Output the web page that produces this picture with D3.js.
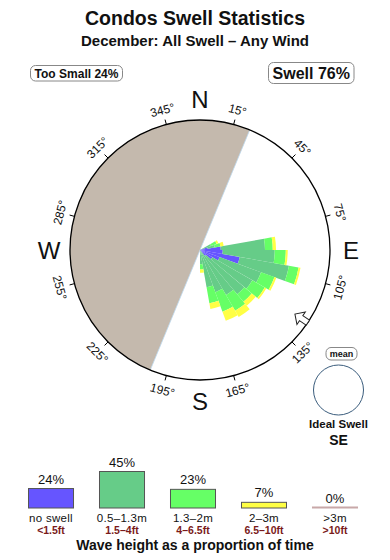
<!DOCTYPE html>
<html>
<head>
<meta charset="utf-8">
<script src="https://cdn.jsdelivr.net/npm/d3@7"></script>
<style>
body { margin: 0; background: #fff; }
text { font-family: "Liberation Sans", Arial, Helvetica, sans-serif; fill: #111; }
</style>
</head>
<body>
<div id="chart"></div>
<script>
// direction bins (start bearing in degrees, each 10 degrees wide)
var binStarts = [60, 70, 80, 90, 100, 110, 120, 130, 140, 150, 160, 170];
var binWidth = 10;

// share of time per direction bin, one array per wave height class (percent)
var noSwell    = [0, 0.6, 1.6, 1.75, 3.1, 1.6, 1.1, 0.6, 0, 0, 0, 0];
var smallSwell = [0.9, 0.55, 3.4, 4.0, 3.85, 3.4, 3.55, 3.85, 4.0, 3.45, 2.9, 1.1];
var midSwell   = [0.45, 0.45, 0.6, 0.85, 0.75, 1.1, 1.1, 0.75, 1.4, 1.6, 1.25, 0.4];
var bigSwell   = [0.15, 0.25, 0.25, 0.15, 0.15, 0.15, 0.15, 0.4, 0.55, 0.75, 0.45, 0.25];

// legend
var heightClasses = ["no swell", "0.5\u20131.3m", "1.3\u20132m", "2\u20133m", ">3m"];
var heightFeet = ["<1.5ft", "1.5\u20134ft", "4\u20136.5ft", "6.5\u201310ft", ">10ft"];
var heightShare = [24, 45, 23, 7, 0];
var classColors = ["#6655ff", "#66cc88", "#66ff66", "#ffff44", "#c8a8a8"];

// compass
var degreeTicks = [15, 45, 75, 105, 135, 165, 195, 225, 255, 285, 315, 345];
var cardinals = ["N", "E", "S", "W"];
var cardinalAngles = [0, 90, 180, 270];
var shadowFrom = 202.5, shadowTo = 382.5;
var idealArrow = 124;
var tooSmall = 24, swellShare = 76;

var width = 390, height = 560;
var cx = 200, cy = 250, radius = 130;

var svg = d3.select("#chart")
  .append("svg")
    .attr("width", width)
    .attr("height", height);

// titles
svg.append("text")
  .attr("x", 195).attr("y", 25)
  .attr("text-anchor", "middle")
  .style("font-size", "19.5px").style("font-weight", "bold")
  .text("Condos Swell Statistics");
svg.append("text")
  .attr("x", 195).attr("y", 46)
  .attr("text-anchor", "middle")
  .style("font-size", "15px").style("font-weight", "bold")
  .text("December: All Swell \u2013 Any Wind");

// summary boxes
function labelBox(x, y, w, h, size, txt) {
  svg.append("rect")
    .attr("x", x).attr("y", y).attr("width", w).attr("height", h)
    .attr("rx", 5)
    .style("fill", "#fff").style("stroke", "#888").style("stroke-width", 1);
  svg.append("text")
    .attr("x", x + w / 2).attr("y", y + h / 2)
    .attr("dy", "0.36em")
    .attr("text-anchor", "middle")
    .style("font-size", size).style("font-weight", "bold")
    .text(txt);
}
labelBox(30.5, 65.5, 92, 15.5, "12px", "Too Small " + tooSmall + "%");
labelBox(268.5, 62.5, 85.5, 21, "16px", "Swell " + swellShare + "%");

var rad = function(deg) { return deg * Math.PI / 180; };
var rose = svg.append("g").attr("transform", "translate(" + cx + "," + cy + ")");

// shadowed half of the compass
rose.append("path")
  .attr("d", d3.arc()({innerRadius: 0, outerRadius: radius,
    startAngle: rad(shadowFrom), endAngle: rad(shadowTo)}))
  .style("fill", "#c4b9ad");
rose.append("line")
  .attr("x1", radius * Math.sin(rad(shadowFrom))).attr("y1", -radius * Math.cos(rad(shadowFrom)))
  .attr("x2", radius * Math.sin(rad(shadowTo))).attr("y2", -radius * Math.cos(rad(shadowTo)))
  .style("stroke", "#bcd8ee").style("stroke-width", 0.8);

// stacked rose
var keys = ["noSwell", "smallSwell", "midSwell", "bigSwell"];
var table = binStarts.map(function(b, i) {
  return {start: b, noSwell: noSwell[i], smallSwell: smallSwell[i], midSwell: midSwell[i], bigSwell: bigSwell[i]};
});
var series = d3.stack().keys(keys)(table);
var r = d3.scaleLinear().domain([0, 10]).range([0, radius]);
var arc = d3.arc()
  .innerRadius(function(d) { return r(d[0]); })
  .outerRadius(function(d) { return r(d[1]); })
  .startAngle(function(d) { return rad(d.data.start); })
  .endAngle(function(d) { return rad(d.data.start + binWidth); });

rose.selectAll("g.layer")
  .data(series)
  .enter()
  .append("g")
    .attr("class", "layer")
    .style("fill", function(d, i) { return classColors[i]; })
  .selectAll("path")
  .data(function(d) { return d; })
  .enter()
  .append("path")
    .attr("d", arc);

// compass ring
rose.append("circle")
  .attr("r", radius)
  .style("fill", "none").style("stroke", "#000").style("stroke-width", 1.3);

rose.selectAll("line.tick")
  .data(degreeTicks)
  .enter()
  .append("line")
    .attr("class", "tick")
    .attr("x1", function(d) { return radius * Math.sin(rad(d)); })
    .attr("y1", function(d) { return -radius * Math.cos(rad(d)); })
    .attr("x2", function(d) { return (radius + 5) * Math.sin(rad(d)); })
    .attr("y2", function(d) { return -(radius + 5) * Math.cos(rad(d)); })
    .style("stroke", "#000").style("stroke-width", 1);

rose.selectAll("text.deg")
  .data(degreeTicks)
  .enter()
  .append("text")
    .attr("class", "deg")
    .attr("transform", function(d) {
      var rot = ((d + 90) % 180) - 90;
      return "translate(" + (145 * Math.sin(rad(d))) + "," + (-145 * Math.cos(rad(d))) + ")rotate(" + rot + ")";
    })
    .attr("text-anchor", "middle")
    .attr("dy", "0.36em")
    .style("font-size", "12px")
    .text(function(d) { return d + "\u00b0"; });

rose.selectAll("text.card")
  .data(cardinals)
  .enter()
  .append("text")
    .attr("class", "card")
    .attr("x", function(d, i) { return 151 * Math.sin(rad(cardinalAngles[i])); })
    .attr("y", function(d, i) { return -151 * Math.cos(rad(cardinalAngles[i])); })
    .attr("dy", "0.36em")
    .attr("text-anchor", "middle")
    .style("font-size", "24px")
    .text(function(d) { return d; });

// ideal swell arrow on the ring, pointing in
var arrowPts = [[0, -3], [8, -3], [8, -7.5], [15.5, 0], [8, 7.5], [8, 3], [0, 3]];
rose.append("polygon")
  .attr("points", arrowPts.map(function(p) { return p.join(","); }).join(" "))
  .attr("transform", "rotate(" + (idealArrow - 90) + ")translate(" + radius + ",0)rotate(180)")
  .style("fill", "#fff").style("stroke", "#222").style("stroke-width", 1);

// mean / ideal swell panel
labelBox(326, 347.5, 31, 12.5, "9px", "mean");
svg.append("circle")
  .attr("cx", 338.5).attr("cy", 390).attr("r", 25)
  .style("fill", "#fff").style("stroke", "#3b5d7d").style("stroke-width", 1);
svg.append("text")
  .attr("x", 338.5).attr("y", 428)
  .attr("text-anchor", "middle")
  .style("font-size", "11.5px").style("font-weight", "bold")
  .text("Ideal Swell");
svg.append("text")
  .attr("x", 338.5).attr("y", 445)
  .attr("text-anchor", "middle")
  .style("font-size", "14px").style("font-weight", "bold")
  .text("SE");

// wave height bars
var x = d3.scaleBand()
  .domain(heightClasses)
  .range([28.5, 357.5])
  .paddingInner(0.366)
  .paddingOuter(0);
var y = d3.scaleLinear()
  .domain([0, 45])
  .range([508, 471.5]);

svg.selectAll("rect.bar")
  .data(heightShare)
  .enter()
  .append("rect")
    .attr("class", "bar")
    .attr("x", function(d, i) { return x(heightClasses[i]); })
    .attr("y", function(d) { return Math.min(y(d), y(0) - 1); })
    .attr("width", x.bandwidth())
    .attr("height", function(d) { return Math.max(y(0) - y(d), 1); })
    .style("fill", function(d, i) { return classColors[i]; })
    .style("stroke", function(d, i) { return d === 0 ? classColors[i] : "#555"; })
    .style("stroke-width", 1);

svg.selectAll("text.pct")
  .data(heightShare)
  .enter()
  .append("text")
    .attr("class", "pct")
    .attr("x", function(d, i) { return x(heightClasses[i]) + x.bandwidth() / 2; })
    .attr("y", function(d) { return y(d) - 5; })
    .attr("text-anchor", "middle")
    .style("font-size", "13px")
    .text(function(d) { return d + "%"; });

svg.selectAll("text.cls")
  .data(heightClasses)
  .enter()
  .append("text")
    .attr("class", "cls")
    .attr("x", function(d) { return x(d) + x.bandwidth() / 2; })
    .attr("y", 521.5)
    .attr("text-anchor", "middle")
    .style("font-size", "11.5px")
    .style("letter-spacing", "0.3px")
    .text(function(d) { return d; });

svg.selectAll("text.ft")
  .data(heightFeet)
  .enter()
  .append("text")
    .attr("class", "ft")
    .attr("x", function(d, i) { return x(heightClasses[i]) + x.bandwidth() / 2; })
    .attr("y", 533.5)
    .attr("text-anchor", "middle")
    .style("font-size", "10.5px").style("font-weight", "bold")
    .style("fill", "#7a1a1a")
    .text(function(d) { return d; });

svg.append("text")
  .attr("x", 195).attr("y", 550)
  .attr("text-anchor", "middle")
  .style("font-size", "14px").style("font-weight", "bold")
  .text("Wave height as a proportion of time");
</script>
</body>
</html>
